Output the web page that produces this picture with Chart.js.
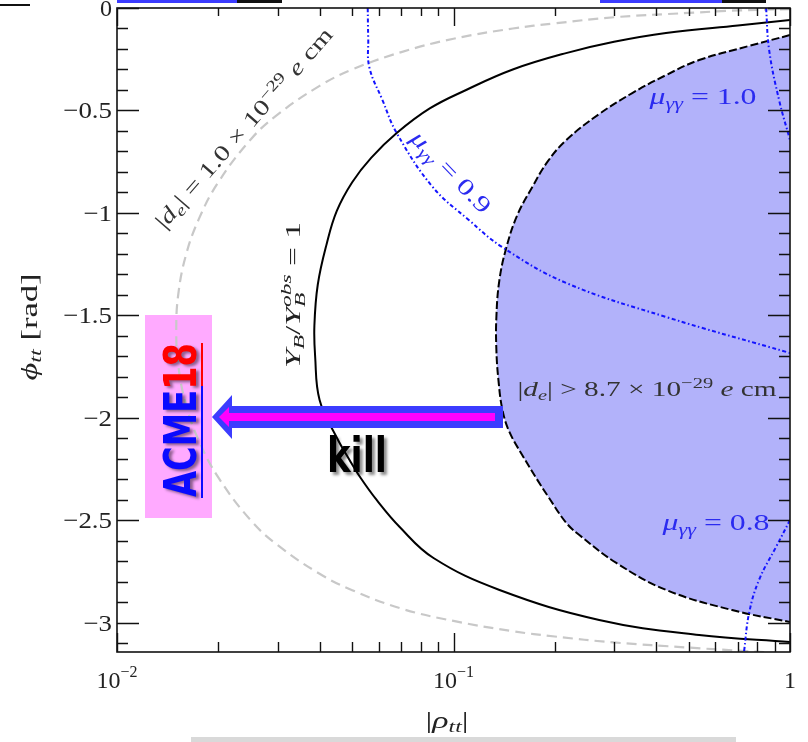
<!DOCTYPE html>
<html>
<head>
<meta charset="utf-8">
<script src="https://cdn.jsdelivr.net/npm/chart.js@4.4.1/dist/chart.umd.min.js"></script>
<style>
  html, body { margin: 0; padding: 0; background: #fff; }
  #wrap { width: 808px; height: 742px; }
</style>
</head>
<body>
<div id="wrap"><canvas id="c" width="808" height="742"></canvas></div>
<script>
// |rho_tt| vs phi_tt contours, each point is [|rho_tt|, phi_tt (rad)]
const deLimitOld = [ // |d_e| = 1.0e-29 e cm
  [1.0,-0.005],[0.7,-0.012],[0.5,-0.024],[0.3,-0.045],[0.2,-0.075],[0.15,-0.10],[0.1,-0.15],
  [0.07,-0.215],[0.05,-0.30],[0.04,-0.38],[0.03,-0.52],[0.025,-0.64],[0.02,-0.85],[0.0175,-1.03],
  [0.016,-1.21],[0.0152,-1.40],[0.0150,-1.57],[0.0152,-1.74],[0.016,-1.93],[0.0175,-2.11],
  [0.02,-2.29],[0.025,-2.50],[0.03,-2.62],[0.04,-2.76],[0.05,-2.84],[0.07,-2.93],[0.1,-2.99],
  [0.15,-3.04],[0.2,-3.066],[0.3,-3.095],[0.5,-3.12],[0.7,-3.135],[1.0,-3.15]
];
const baryonCurve = [ // Y_B / Y_B^obs = 1
  [1.0,-0.059],[0.7,-0.085],[0.428,-0.122],[0.3,-0.165],[0.216,-0.22],[0.15,-0.30],[0.109,-0.40],
  [0.085,-0.49],[0.0678,-0.61],[0.057,-0.73],[0.05,-0.85],[0.045,-0.99],[0.042,-1.15],
  [0.0395,-1.35],[0.0386,-1.55],[0.0388,-1.70],[0.0400,-1.912],[0.0449,-2.093],[0.0491,-2.205],
  [0.0530,-2.293],[0.0591,-2.400],[0.0692,-2.532],[0.0872,-2.683],[0.137,-2.839],[0.271,-2.985],
  [0.537,-3.059],[1.0,-3.093]
];
const deExcluded = [ // |d_e| > 8.7e-29 e cm boundary
  [1.0,-0.132],[0.7556,-0.185],[0.537,-0.254],[0.4285,-0.327],[0.3398,-0.415],[0.2711,-0.517],
  [0.2164,-0.644],[0.1901,-0.751],[0.1715,-0.873],[0.1548,-1.010],[0.1437,-1.166],[0.1369,-1.327],
  [0.1341,-1.507],[0.1341,-1.668],[0.1360,-1.815],[0.1398,-1.961],[0.1466,-2.068],[0.1613,-2.190],
  [0.1775,-2.302],[0.1914,-2.385],[0.2164,-2.512],[0.2366,-2.571],[0.3047,-2.707],[0.4285,-2.839],
  [0.6728,-2.937],[1.0,-2.995]
];
const muGG09 = [
  [0.0556,0],[0.0558,-0.15],[0.0562,-0.288],[0.0615,-0.449],[0.0678,-0.61],[0.0867,-0.873],
  [0.111,-1.034],[0.1395,-1.166],[0.216,-1.341],[0.428,-1.507],[1.0,-1.683]
];
const muGG10 = [[0.849,0],[0.867,-0.205],[0.928,-0.449],[1.0,-0.644]];
const muGG08 = [[1.0,-2.498],[0.909,-2.629],[0.809,-2.79],[0.756,-2.951],[0.73,-3.141]];

// axis ticks
const xTickValues = [0.01, 0.1, 1];
const xTickLabels = [['10','−2'], ['10','−1'], ['1','']];
const yTickValues = [0, -0.5, -1, -1.5, -2, -2.5, -3];
const yTickLabels = ['0', '−0.5', '−1', '−1.5', '−2', '−2.5', '−3'];

const toXY = arr => arr.map(p => ({x: p[0], y: p[1]}));

const SERIF = '"Liberation Serif"';
function runFont(kind, size) {
  const small = kind.startsWith('sub') || kind.startsWith('sup') || kind === 'stack';
  const s = small ? size * 0.7 : size;
  const it = kind.endsWith('i') || kind === 'stack';
  return (it ? 'italic ' : '') + s.toFixed(2) + 'px ' + SERIF;
}
function runShift(kind, size) {
  if (kind.startsWith('sub')) return size * 0.2;
  if (kind.startsWith('sup')) return -size * 0.38;
  return 0;
}
function runWidth(ctx, run, size) {
  const [t, k] = run;
  ctx.font = runFont(k, size);
  if (k === 'stack') return Math.max(ctx.measureText(t[0]).width, ctx.measureText(t[1]).width);
  return ctx.measureText(t).width;
}
function measureRuns(ctx, runs, size) {
  let w = 0;
  for (const r of runs) w += runWidth(ctx, r, size);
  return w;
}
// draws a run list centred on (cx, cy), rotated, stretched along the baseline to the given width
function drawMath(ctx, runs, cx, cy, angle, width, color, size) {
  const w = measureRuns(ctx, runs, size);
  const sx = width / w;
  ctx.save();
  ctx.translate(cx, cy);
  ctx.rotate(angle);
  ctx.scale(sx, 1);
  ctx.fillStyle = color;
  ctx.textAlign = 'left';
  ctx.textBaseline = 'alphabetic';
  let x = -w / 2;
  const by = size * 0.32;
  for (const r of runs) {
    const [t, k] = r;
    ctx.font = runFont(k, size);
    if (k === 'stack') {
      ctx.fillText(t[0], x, by + size * 0.22);
      ctx.fillText(t[1], x, by - size * 0.42);
    } else {
      ctx.fillText(t, x, by + runShift(k, size));
    }
    x += runWidth(ctx, r, size);
  }
  ctx.restore();
}

const annotations = {
  id: 'annotations',
  beforeDraw(chart) {
    const ctx = chart.ctx;
    ctx.save();
    ctx.fillStyle = '#fff';
    ctx.fillRect(0, 0, chart.width, chart.height);
    ctx.restore();
  },
  beforeDatasetsDraw(chart) {
    const ctx = chart.ctx;
    ctx.save();
    ctx.fillStyle = '#ffaaff';
    ctx.fillRect(145, 315, 67, 203);
    ctx.restore();
  },
  afterDatasetsDraw(chart) {
    const ctx = chart.ctx;
    const xs = chart.scales.x, ys = chart.scales.y;
    const a = chart.chartArea;
    ctx.save();

    // frame
    ctx.strokeStyle = '#111';
    ctx.lineWidth = 1.6;
    ctx.strokeRect(a.left, a.top, a.right - a.left, a.bottom - a.top);

    // ticks pointing inward
    ctx.lineWidth = 1.4;
    ctx.beginPath();
    for (let d = 0.01; d < 1; d *= 10) {
      for (let m = 1; m <= 10; m++) {
        const v = d * m;
        const px = Math.round(xs.getPixelForValue(v)) + 0.5;
        const major = (m === 1 || m === 10);
        const lb = major ? 19 : 10, lt = major ? 18 : 8;
        ctx.moveTo(px, a.bottom); ctx.lineTo(px, a.bottom - lb);
        ctx.moveTo(px, a.top); ctx.lineTo(px, a.top + lt);
      }
    }
    for (let i = 0; i <= 31; i++) {
      const v = -i / 10;
      const py = Math.round(ys.getPixelForValue(v)) + 0.5;
      const major = i % 5 === 0;
      const len = major ? 22 : 11;
      ctx.moveTo(a.left, py); ctx.lineTo(a.left + len, py);
      ctx.moveTo(a.right, py); ctx.lineTo(a.right - len, py);
    }
    ctx.stroke();

    // tick labels
    ctx.fillStyle = '#222';
    ctx.textBaseline = 'alphabetic';
    yTickValues.forEach((v, i) => {
      const py = ys.getPixelForValue(v);
      ctx.save();
      ctx.font = '24px ' + SERIF;
      const w = ctx.measureText(yTickLabels[i]).width;
      const s = yTickLabels[i].length > 1 ? 1.12 : 1;
      ctx.translate(112 - w * s, py + 8);
      ctx.scale(s, 1);
      ctx.textAlign = 'left';
      ctx.fillText(yTickLabels[i], 0, 0);
      ctx.restore();
    });
    xTickValues.forEach((v, i) => {
      const px = xs.getPixelForValue(v);
      const [m, e] = xTickLabels[i];
      ctx.font = '24px ' + SERIF;
      const wm = ctx.measureText(m).width;
      ctx.font = '16px ' + SERIF;
      const we = ctx.measureText(e).width;
      const x0 = px - (wm + we) / 2;
      ctx.textAlign = 'left';
      ctx.font = '24px ' + SERIF;
      ctx.fillText(m, x0, 688);
      ctx.font = '16px ' + SERIF;
      ctx.fillText(e, x0 + wm, 677);
    });

    // axis titles
    drawMath(ctx, [['|','r'],['ρ','i'],['tt','sub-i'],['|','r']], 447, 720, 0, 43, '#222', 24);
    drawMath(ctx, [['ϕ','i'],['tt','sub-i'],[' [rad]','r']], 29, 327, -Math.PI / 2, 107, '#222', 24);

    // curve labels
    drawMath(ctx, [['|','r'],['d','i'],['e','sub-i'],['| = 1.0 × 10','r'],['−29','sup-r'],[' ','r'],['e','i'],[' cm','r']],
      244, 128, -49 * Math.PI / 180, 258, '#333', 22);
    drawMath(ctx, [['Y','i'],['B','sub-i'],['/','r'],['Y','i'],[['B','obs'],'stack'],[' = 1','r']],
      293, 295, -Math.PI / 2, 146, '#222', 22);
    drawMath(ctx, [['μ','i'],['γγ','sub-i'],[' = 0.9','r']], 451, 172, 46 * Math.PI / 180, 105, '#2b2bf0', 23);
    drawMath(ctx, [['μ','i'],['γγ','sub-i'],[' = 1.0','r']], 703, 97, 0, 107, '#2b2bf0', 23);
    drawMath(ctx, [['|','r'],['d','i'],['e','sub-i'],['| > 8.7 × 10','r'],['−29','sup-r'],[' ','r'],['e','i'],[' cm','r']],
      647, 389, 0, 259, '#333', 22);
    drawMath(ctx, [['μ','i'],['γγ','sub-i'],[' = 0.8','r']], 716, 523, 0, 107, '#2b2bf0', 23);

    // ACME18 label
    ctx.save();
    ctx.translate(196, 420);
    ctx.rotate(-Math.PI / 2);
    ctx.font = 'bold 44px "DejaVu Sans"';
    const wA = ctx.measureText('ACME').width, w18 = ctx.measureText('18').width;
    const sx = 154 / (wA + w18);
    ctx.scale(sx, 1);
    ctx.shadowColor = 'rgba(0,0,0,0.45)';
    ctx.shadowOffsetX = 3; ctx.shadowOffsetY = 2; ctx.shadowBlur = 3;
    ctx.textAlign = 'left';
    ctx.fillStyle = '#0a0aff';
    ctx.fillText('ACME', -77 / sx, 0);
    ctx.fillStyle = '#ff0000';
    ctx.fillText('18', -77 / sx + wA, 0);
    ctx.restore();
    ctx.lineWidth = 2;
    ctx.strokeStyle = '#ff0000';
    ctx.beginPath(); ctx.moveTo(202, 343); ctx.lineTo(202, 386); ctx.stroke();
    ctx.strokeStyle = '#0a0aff';
    ctx.beginPath(); ctx.moveTo(202, 386); ctx.lineTo(202, 498); ctx.stroke();

    // arrow
    ctx.fillStyle = '#3c3cff';
    ctx.beginPath();
    ctx.moveTo(212, 417); ctx.lineTo(232, 395); ctx.lineTo(232, 406); ctx.lineTo(503, 406);
    ctx.lineTo(503, 428); ctx.lineTo(232, 428); ctx.lineTo(232, 439); ctx.closePath();
    ctx.fill();
    ctx.fillStyle = '#ff00ff';
    ctx.beginPath();
    ctx.moveTo(219, 417); ctx.lineTo(229, 407); ctx.lineTo(229, 413); ctx.lineTo(495, 413);
    ctx.lineTo(495, 421); ctx.lineTo(229, 421); ctx.lineTo(229, 427); ctx.closePath();
    ctx.fill();

    // kill
    ctx.save();
    ctx.font = 'bold 48px "DejaVu Sans"';
    const wk = ctx.measureText('kill').width;
    ctx.translate(327, 472);
    ctx.scale(60 / wk, 1);
    ctx.shadowColor = 'rgba(0,0,0,0.45)';
    ctx.shadowOffsetX = 3; ctx.shadowOffsetY = 3; ctx.shadowBlur = 3;
    ctx.fillStyle = '#000';
    ctx.textAlign = 'left';
    ctx.fillText('kill', 0, 0);
    ctx.restore();

    // strips along the page edges
    ctx.fillStyle = '#111';
    ctx.fillRect(0, 4, 30, 2);
    ctx.fillRect(237, 0, 45, 3);
    ctx.fillRect(722, 0, 44, 3);
    ctx.fillStyle = '#3c3cff';
    ctx.fillRect(117, 0, 120, 3);
    ctx.fillRect(600, 0, 122, 3);
    ctx.fillStyle = '#d9d9d9';
    ctx.fillRect(191, 737, 545, 5);

    ctx.restore();
  }
};

const lineBase = {showLine: true, pointRadius: 0, pointHoverRadius: 0, tension: 0.4, fill: false};

new Chart(document.getElementById('c'), {
  type: 'scatter',
  data: {
    datasets: [
      Object.assign({}, lineBase, {label: 'mu 0.9', data: toXY(muGG09), borderColor: '#1414ff', borderWidth: 2,
        borderDash: [4, 2.5, 1.5, 2.5], order: 1,
        segment: {borderDash: ctx => ctx.p0.parsed.x >= 0.6 ? [] : undefined}}),
      Object.assign({}, lineBase, {label: 'mu 1.0', data: toXY(muGG10), borderColor: '#1414ff', borderWidth: 2,
        borderDash: [4, 2.5, 1.5, 2.5], order: 1}),
      Object.assign({}, lineBase, {label: 'mu 0.8', data: toXY(muGG08), borderColor: '#1414ff', borderWidth: 2,
        borderDash: [4, 2.5, 1.5, 2.5], order: 1}),
      Object.assign({}, lineBase, {label: 'YB', data: toXY(baryonCurve), borderColor: '#000', borderWidth: 2, order: 2}),
      Object.assign({}, lineBase, {label: 'de old', data: toXY(deLimitOld), borderColor: '#c8c8c8', borderWidth: 2.2,
        borderDash: [10, 6], order: 3}),
      Object.assign({}, lineBase, {label: 'de excluded', data: toXY(deExcluded), borderColor: '#000', borderWidth: 2,
        borderDash: [8, 3], fill: 'shape', backgroundColor: '#b2b2fa', order: 4})
    ]
  },
  options: {
    responsive: false,
    devicePixelRatio: 1,
    animation: false,
    layout: {padding: {left: 117, top: 8, right: 18, bottom: 90}},
    plugins: {legend: {display: false}, tooltip: {enabled: false}},
    events: [],
    scales: {
      x: {type: 'logarithmic', min: 0.01, max: 1, display: false},
      y: {type: 'linear', min: -Math.PI, max: 0, display: false}
    }
  },
  plugins: [annotations]
});
</script>
</body>
</html>
